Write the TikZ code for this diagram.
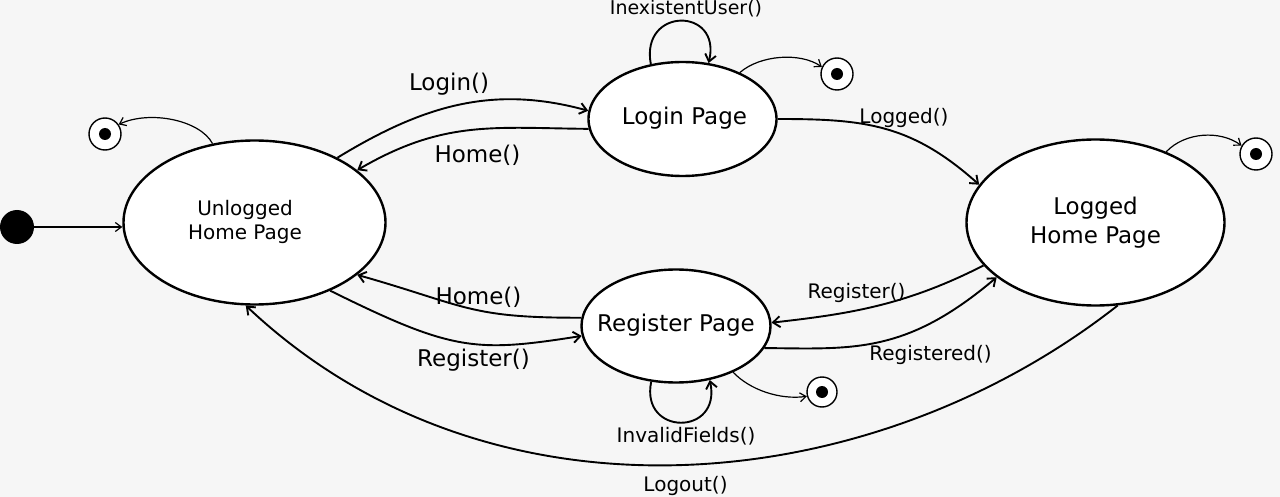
\documentclass[tikz,border=0pt]{standalone}
\usepackage{fontspec}
\setmainfont{DejaVu Sans}
\usetikzlibrary{shapes.geometric,arrows.meta}
\definecolor{bgc}{RGB}{246,246,246}
\newcommand\fbig{\fontsize{23}{29.5}\selectfont}
\newcommand\fsmall{\fontsize{20}{24.5}\selectfont}
\tikzset{
  state/.style={ellipse, draw, line width=2.4pt, fill=white, inner sep=0pt, font=\fbig, align=center},
  finalst/.style={circle, draw, line width=1.4pt, fill=white, minimum size=32pt, inner sep=0pt,
    path picture={\fill[black] (path picture bounding box.center) circle (6pt);}},
  initst/.style={circle, fill=black, minimum size=34pt, inner sep=0pt},
  trans/.style={line width=1.9pt, -{Straight Barb[length=7pt,width=11pt]}},
  thintrans/.style={line width=1.2pt, -{Straight Barb[length=6pt,width=9pt]}},
  lbl/.style={font=\fsmall, inner sep=0pt},
  lblbig/.style={font=\fbig, inner sep=0pt}
}
\begin{document}
\begin{tikzpicture}[x=1pt,y=-1pt]
\fill[bgc] (0,0) rectangle (1280,497);
\useasboundingbox (0,0) rectangle (1280,497);

% states
\node[initst] (init) at (17,227) {};
\node[state, minimum width=262pt, minimum height=164pt] (un) at (254.5,222.5) {};
\node[font=\fsmall, align=center, inner sep=0pt] (unT) at (245,222) {Unlogged\\Home Page};
\node[state, minimum width=188pt, minimum height=114pt] (lp) at (682.5,119) {};
\node[font=\fbig, inner sep=0pt] (lpT) at (684.5,118) {Login Page};
\node[state, minimum width=189pt, minimum height=113pt] (rp) at (676,326) {};
\node[font=\fbig, inner sep=0pt] (rpT) at (676,325) {Register Page};
\node[state, minimum width=258pt, minimum height=166pt] (lg) at (1095.5,222.5) {Logged\\Home Page};

\node[finalst] (fu) at (105,134) {};
\node[finalst] (fl) at (837,74) {};
\node[finalst] (fg) at (1256,154) {};
\node[finalst, minimum size=30pt] (fr) at (822,392) {};

% transitions
\draw[thintrans] (init) -- (un.west |- init);
\draw[trans] (un.38) .. controls (427.5,102.6) and (496.5,85.7) .. (lp.175);
\draw[trans] (lp.186) .. controls (494,128) and (443.7,119.6) .. (un.27);
\draw[trans] (lp.0) .. controls (864,119) and (911,123.7) .. (lg.162);
\draw[trans] (lp.120) .. controls (640,6.7) and (722,6.7) .. (lp.65);
\draw[thintrans] (lp.39) .. controls (760,55) and (800,52) .. (fl.155);
\draw[thintrans] (lg.45) .. controls (1185,132) and (1220,130) .. (fg.150);
\draw[thintrans] (un.118) .. controls (200,120) and (150,110) .. (fu.35);
\draw[trans] (lg.201) .. controls (905,305.5) and (849,314) .. (rp.2);
\draw[trans] (rp.346) .. controls (854,349) and (906,354) .. (lg.209);
\draw[trans] (rp.175) .. controls (468.5,318) and (467,306) .. (un.333);
\draw[trans] (un.318) .. controls (452.7,351.3) and (475.3,352.7) .. (rp.186);
\draw[trans] (rp.246) .. controls (640,436.3) and (722,436.3) .. (rp.302);
\draw[thintrans] (rp.321) .. controls (750,390) and (780,400) .. (fr.196);
\draw[trans] (lg.285) .. controls (870,500) and (490,536) .. (un.264);

% labels
\node[lblbig] (lLogin) at (449,84) {Login()};
\node[lblbig] (lHome1) at (477.5,155) {Home()};
\node[lblbig] (lHome2) at (478.5,297) {Home()};
\node[lblbig] (lReg1) at (473.5,360) {Register()};
\node[lbl] (lLogged) at (904,118) {Logged()};
\node[lbl] (lReg2) at (856.5,293) {Register()};
\node[lbl] (lRegd) at (930.5,355) {Registered()};
\node[lbl, font=\fontsize{19}{23}\selectfont] (lInex) at (686,9) {InexistentUser()};
\node[lbl] (lInv) at (686,436) {InvalidFields()};
\node[lbl] (lOut) at (685.5,486) {Logout()};
\end{tikzpicture}
\end{document}
